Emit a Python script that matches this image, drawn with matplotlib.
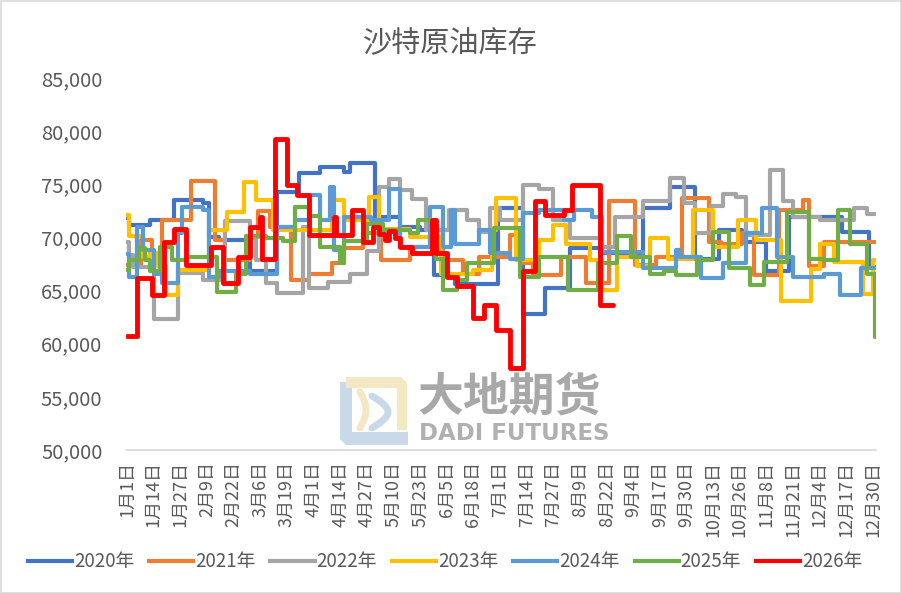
import numpy as np
import pandas as pd
import matplotlib
matplotlib.use('Agg')
import matplotlib.pyplot as plt
import matplotlib.transforms as mtransforms
from matplotlib.patches import Polygon, Rectangle
from matplotlib.lines import Line2D
from matplotlib.ticker import FuncFormatter

plt.rcParams['font.family'] = ['Noto Sans CJK SC', 'DejaVu Sans']

# step start day (0 = 1月1日) and inventory value
d2020 = [0, 1, 11, 23, 37, 40, 45, 60, 73, 84, 94, 106, 109, 121, 133, 143, 150, 160, 181, 193,
         204, 216, 231, 252, 265, 277, 289, 300, 312, 323, 349, 362, 365]
v2020 = [71800, 71200, 71600, 73500, 73200, 70000, 69800, 66800, 74300, 76100, 76600, 76200, 77000,
         71900, 71000, 70700, 66500, 65600, 72800, 62800, 65200, 69000, 68500, 72800, 74700, 68000,
         70700, 69600, 66800, 71900, 70500, 67200, 67200]

d2021 = [0, 7, 12, 17, 31, 43, 48, 60, 64, 70, 80, 89, 100, 106, 115, 124, 138, 154, 164, 172,
         187, 192, 198, 212, 224, 235, 248, 258, 271, 284, 290, 300, 306, 318, 330, 333, 340, 365]
v2021 = [67400, 69800, 68500, 71600, 75300, 69800, 67900, 70000, 72500, 71000, 66000, 66600, 67600,
         69000, 70400, 67900, 69100, 67900, 66600, 68200, 70200, 67600, 66500, 68200, 65700, 73400,
         67400, 68200, 73700, 69600, 69400, 70400, 66500, 72600, 73500, 67300, 69600, 69600]

d2022 = [0, 1, 3, 13, 25, 37, 48, 60, 63, 68, 73, 86, 89, 98, 109, 117, 123, 128, 133, 139,
         146, 157, 166, 172, 177, 182, 193, 201, 208, 216, 232, 238, 252, 265, 272, 277, 285, 291,
         297, 302, 314, 320, 325, 338, 355, 361, 365]
v2022 = [69600, 68300, 67200, 62300, 66700, 66000, 71500, 69900, 67900, 65700, 64800, 71000, 65200,
         65800, 66600, 68700, 74700, 75500, 74500, 73600, 70700, 72600, 71600, 70500, 72800, 71600,
         74900, 74600, 71600, 69900, 69100, 71900, 73400, 75600, 73200, 70400, 73000, 74100, 73800,
         70200, 76300, 73400, 71900, 71600, 72800, 72200, 72200]

d2023 = [0, 1, 8, 11, 15, 19, 25, 40, 49, 57, 63, 71, 100, 106, 118, 123, 138, 153, 169, 178,
         180, 190, 201, 208, 214, 226, 232, 239, 249, 255, 264, 276, 286, 298, 307, 319, 334, 338,
         345, 359, 364, 365]
v2023 = [72100, 70100, 68200, 68500, 67300, 64600, 66900, 70700, 72400, 75200, 73500, 70700, 73500,
         71600, 73800, 70800, 70000, 66600, 66900, 70700, 73700, 67900, 69800, 71200, 69400, 67900,
         65100, 68200, 67300, 69900, 68000, 72600, 69100, 71600, 69800, 64000, 67000, 69400, 67700,
         64700, 67900, 67900]

d2024 = [0, 1, 5, 8, 13, 17, 25, 27, 37, 40, 45, 60, 73, 82, 89, 94, 99, 101, 106, 119,
         128, 133, 148, 154, 158, 160, 172, 177, 187, 193, 201, 213, 218, 227, 232, 252, 268, 270,
         280, 291, 302, 310, 317, 325, 340, 348, 358, 365]
v2024 = [68400, 66300, 71000, 68800, 66600, 65700, 70400, 72900, 72600, 66300, 66800, 66600, 71000,
         71600, 74000, 71600, 74700, 68800, 71900, 71600, 74600, 69100, 72900, 69100, 72600, 69400,
         70700, 68500, 68000, 72300, 72600, 71600, 72600, 71900, 68600, 67100, 68800, 68200, 66200,
         67600, 70400, 72800, 68200, 66300, 66600, 64600, 67100, 67100]

d2025 = [0, 1, 6, 9, 11, 16, 22, 29, 44, 53, 58, 68, 76, 82, 89, 94, 104, 106, 117, 125,
         138, 142, 151, 154, 161, 166, 179, 192, 201, 215, 230, 239, 246, 255, 262, 268, 278, 286,
         294, 304, 311, 322, 333, 340, 347, 353, 361, 364, 365]
v2025 = [66900, 67900, 69000, 67900, 66800, 69100, 67900, 68200, 64900, 66600, 70100, 69900, 69700,
         72900, 72000, 69100, 67600, 69700, 71300, 70700, 70400, 71600, 68000, 65100, 66000, 67600,
         70900, 66300, 68200, 65100, 67600, 70100, 68200, 66600, 66800, 66500, 67900, 70500, 67100,
         65500, 67700, 72400, 68000, 67900, 72600, 69400, 66600, 66600, 60600]

d2026 = [0, 5, 12, 18, 23, 29, 41, 47, 54, 60, 65, 66, 72, 78, 83, 89, 101, 102, 110, 115,
         120, 123, 126, 128, 131, 133, 139, 149, 151, 156, 161, 169, 174, 180, 187, 193, 199, 204,
         213, 217, 231, 237]
v2026 = [60700, 66200, 64600, 69600, 70800, 67400, 69100, 65700, 68200, 71000, 71900, 68000, 79300,
         74900, 74000, 70200, 71900, 70200, 72600, 69600, 71000, 70300, 69800, 70600, 69900, 69100,
         68500, 71600, 68500, 66300, 65400, 62400, 63600, 61300, 57700, 66800, 73400, 72100, 72600,
         74900, 63600, 63600]

years = ['2020年', '2021年', '2022年', '2023年', '2024年', '2025年', '2026年']
colors = ['#4472C4', '#ED7D31', '#A5A5A5', '#FFC000', '#5B9BD5', '#70AD47', '#FF0000']
days = [d2020, d2021, d2022, d2023, d2024, d2025, d2026]
values = [v2020, v2021, v2022, v2023, v2024, v2025, v2026]

# x axis labels: every 13th day of a leap year
dates = pd.date_range('2020-01-01', periods=366, freq='D')
tick_pos = list(range(0, 366, 13))
tick_lab = [f'{dates[i].month}月{dates[i].day}日' for i in tick_pos]

txt = '#595959'
fig = plt.figure(figsize=(9.01, 5.93), dpi=100)

# background layer: border and watermark, in pixel coordinates
bg = fig.add_axes([0, 0, 1, 1], zorder=0)
bg.set_xlim(0, 901)
bg.set_ylim(593, 0)
bg.axis('off')
bg.add_patch(Rectangle((0.5, 0.5), 900, 592, fill=False, edgecolor='#d9d9d9', lw=1.2))
blue_l = [(340, 382), (352, 382), (352, 432), (408, 432), (408, 445), (346, 445), (340, 439)]
beige_l = [(346, 377), (401, 377), (407, 383), (407, 430), (397, 430), (397, 388), (346, 388)]
bg.add_patch(Polygon(blue_l, closed=True, color='#c9d9ea', lw=0))
bg.add_patch(Polygon(beige_l, closed=True, color='#f3e7c4', lw=0))
t = np.linspace(0, 1, 30)
bg.plot(360 + 6 * np.sin(t * np.pi), 392 + 36 * t, color='#f3e7c4', lw=5, solid_capstyle='round')
bg.plot(372 + 16 * np.sin(t * np.pi), 396 + 32 * t, color='#c9d9ea', lw=5, solid_capstyle='round')
bg.text(417, 398, '大地期货', fontsize=33, fontweight='bold', color='#a8a8a8',
        ha='left', va='center')
bg.text(419, 434, 'DADI FUTURES', fontsize=16.5, fontweight='bold', color='#b0b0b0',
        ha='left', va='center', family=['DejaVu Sans'])

ax = fig.add_axes([126 / 901, 1 - 450 / 593, 750 / 901, 372 / 593], zorder=1)
ax.patch.set_alpha(0)
handles = []
for d, v, c, name in zip(days, values, colors, years):
    lw = 3.5 if name == '2026年' else 3.0
    ax.plot(d, v, drawstyle='steps-post', color=c, lw=lw,
            solid_joinstyle='round', solid_capstyle='round')
    handles.append(Line2D([], [], color=c, lw=3.0, label=name))

ax.set_xlim(-0.5, 365.5)
ax.set_ylim(50000, 85000)
ax.set_yticks(range(50000, 85001, 5000))
ax.yaxis.set_major_formatter(FuncFormatter(lambda x, p: f'{x:,.0f}'))
ax.set_xticks(tick_pos)
ax.set_xticklabels(tick_lab, rotation=90, ha='center', va='top')
shift = mtransforms.ScaledTranslation(4 / 100, 0, fig.dpi_scale_trans)
for lab in ax.get_xticklabels():
    lab.set_transform(lab.get_transform() + shift)
for s in ['top', 'right', 'left']:
    ax.spines[s].set_visible(False)
ax.spines['bottom'].set_color('#d9d9d9')
ax.spines['bottom'].set_linewidth(1.2)
ax.tick_params(axis='y', length=0, pad=17, labelsize=14.5, labelcolor=txt)
ax.tick_params(axis='x', length=0, pad=8, labelsize=13, labelcolor=txt)

fig.text(0.5, 1 - 44 / 593, '沙特原油库存', ha='center', va='center', fontsize=21, color=txt)
fig.legend(handles=handles, ncol=7, loc='center', bbox_to_anchor=(0.494, 1 - 562 / 593),
           frameon=False, fontsize=13.5, labelcolor=txt, handlelength=2.35,
           handletextpad=0.1, columnspacing=0.8)

fig.savefig('out.png', dpi=100)
